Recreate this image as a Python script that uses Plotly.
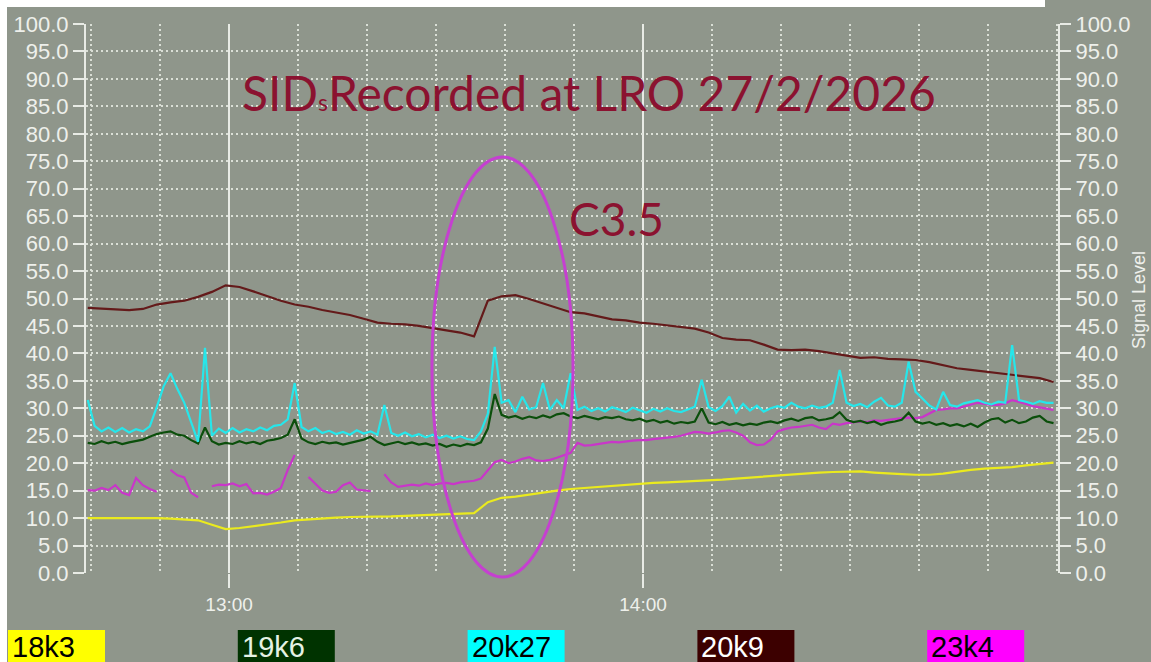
import pandas as pd
import plotly.graph_objects as go

# ---------------------------------------------------------------- data
DAY = pd.Timestamp("2026-02-27 12:00:00")

# sample times, minutes after 12:00
minutes_fast = [39.5 + i for i in range(141)]        # 1-minute channels
minutes_slow = [39.5 + 2 * i for i in range(71)]     # 2-minute channels

# 18k3 (yellow)
sig_18k3 = [10.0, 10.0, 10.1, 10.0, 10.0, 10.0, 9.9, 9.8, 9.6, 8.8,
            8.0, 8.2, 8.5, 8.8, 9.2, 9.6, 9.8, 9.9, 10.1, 10.2,
            10.2, 10.3, 10.3, 10.4, 10.5, 10.6, 10.7, 10.8, 10.9, 12.9,
            13.7, 13.9, 14.3, 14.7, 15.0, 15.3, 15.5, 15.7, 15.9, 16.1,
            16.3, 16.4, 16.5, 16.6, 16.8, 16.9, 17.0, 17.2, 17.4, 17.6,
            17.8, 18.0, 18.2, 18.3, 18.4, 18.4, 18.5, 18.3, 18.1, 18.0,
            17.9, 17.9, 18.1, 18.5, 18.8, 19.0, 19.1, 19.3, 19.6, 19.8,
            20.1]

# 20k9 (maroon)
sig_20k9 = [48.3, 48.2, 48.1, 47.9, 48.1, 48.9, 49.3, 49.6, 50.3, 51.2,
            52.4, 52.1, 51.3, 50.4, 49.6, 48.9, 48.5, 47.9, 47.4, 47.0,
            46.3, 45.6, 45.4, 45.3, 45.0, 44.6, 44.3, 43.8, 43.1, 49.6,
            50.4, 50.6, 49.9, 49.1, 48.3, 47.5, 47.3, 46.8, 46.2, 46.0,
            45.6, 45.4, 45.1, 44.9, 44.5, 43.8, 42.8, 42.5, 42.4, 41.6,
            40.7, 40.6, 40.7, 40.4, 40.0, 39.5, 39.2, 39.3, 39.0, 38.9,
            38.8, 38.4, 37.8, 37.3, 37.0, 36.7, 36.4, 36.1, 35.8, 35.5,
            34.8]

# 19k6 (dark green)
sig_19k6 = [23.7, 23.5, 24.0, 23.6, 23.9, 23.5, 23.8, 24.1, 24.3, 24.8,
            25.3, 25.6, 25.8, 25.2, 25.0, 24.2, 23.6, 26.5, 24.0, 23.4,
            23.7, 23.5, 24.0, 23.6, 23.9, 23.5, 24.1, 24.3, 24.6, 25.2,
            28.0, 24.5, 23.8, 23.5, 23.9, 23.6, 23.8, 23.4, 23.7, 23.9,
            24.3, 24.8, 23.9, 23.3, 23.6, 23.9, 23.5, 23.8, 23.4, 23.6,
            23.2, 23.5, 23.0, 23.4, 23.1, 23.5, 23.3, 23.8, 26.3, 32.6,
            28.8, 28.3, 28.6, 28.1, 28.5, 28.2, 28.7, 28.3, 28.9, 29.1,
            28.5, 28.2, 28.6, 28.3, 28.0, 28.4, 28.2, 28.5, 28.0, 27.8,
            28.1, 27.6, 27.9, 27.4, 27.7, 27.2, 27.5, 27.3, 27.6, 30.0,
            27.4, 27.1, 27.5, 27.0, 27.3, 26.9, 27.2, 27.0, 27.4, 27.6,
            27.3, 27.8, 28.1, 27.7, 28.2, 28.4, 27.8, 28.0, 28.3, 29.3,
            27.9, 27.5, 27.7, 27.3, 27.6, 27.0, 27.4, 27.6, 27.9, 29.2,
            27.6, 27.2, 27.5, 27.0, 27.3, 26.8, 27.1, 26.7, 27.2, 26.6,
            27.4, 28.0, 28.2, 27.4, 27.9, 27.3, 27.6, 28.3, 28.6, 27.6,
            27.3]

# 20k27 (cyan)
sig_20k27 = [31.5, 26.8, 25.8, 26.5, 25.7, 26.4, 25.6, 26.2, 25.8, 26.7,
             30.2, 34.0, 36.4, 33.5, 31.0, 27.5, 23.9, 41.0, 25.0, 26.3,
             25.5, 26.4, 25.6, 26.2, 25.8, 26.5, 26.0, 26.8, 27.0, 28.0,
             34.6, 26.6, 25.8, 26.4, 25.5, 25.9, 25.3, 25.7, 25.2, 26.0,
             25.4, 25.8, 25.2, 30.6, 25.5, 25.0, 25.6, 24.9, 25.3, 24.7,
             25.2, 24.6, 25.0, 24.5, 24.9, 24.4, 24.2, 25.8, 29.0, 41.2,
             31.0, 31.5, 29.3, 32.1, 29.8, 30.2, 34.6, 29.7, 31.5, 30.0,
             36.4, 29.7, 30.3, 29.5, 30.0, 29.4, 30.2, 29.8, 29.3, 30.1,
             29.6, 29.2, 29.9, 29.4, 30.0, 29.5, 29.3, 29.8, 30.3, 35.2,
             30.2, 29.5, 30.4, 32.1, 29.2, 30.8, 29.6, 30.5, 29.4, 30.0,
             30.4, 30.1, 31.0, 30.3, 30.0, 30.5, 30.1, 30.3, 31.0, 37.0,
             31.0, 30.4, 30.8, 30.2, 31.2, 31.9, 30.5, 30.3, 31.0, 38.5,
             33.0, 31.8, 30.5, 29.8, 33.0, 30.6, 30.3, 30.9, 31.2, 31.5,
             31.0, 30.7, 31.2, 31.0, 41.5, 31.5, 31.2, 30.8, 31.3, 31.0,
             31.0]

# 23k4 (magenta); None marks dropouts in the record
sig_23k4 = [15.1, 15.0, 15.5, 15.1, 16.0, 14.6, 14.2, 17.3, 16.0, 15.3,
            14.8, None, 18.8, 17.8, 17.4, 14.6, 13.8, None, 15.8, 16.1,
            16.0, 16.3, 15.8, 16.2, 14.5, 14.6, 14.3, 14.8, 15.5, 18.8,
            21.5, None, 17.5, 16.3, 15.0, 14.6, 14.8, 16.0, 16.5, 15.2,
            15.1, 14.9, None, 18.0, 16.5, 15.7, 15.9, 16.1, 15.9, 16.3,
            16.0, 16.3, 16.4, 16.2, 16.5, 16.6, 16.8, 17.2, 18.8, 20.2,
            20.6, 20.0, 20.3, 20.8, 21.1, 20.5, 20.4, 20.6, 21.0, 21.5,
            21.9, 23.7, 23.2, 23.3, 23.5, 23.6, 23.9, 23.8, 24.0, 24.1,
            24.2, 24.2, 24.4, 24.5, 24.7, 24.8, 25.0, 25.3, 25.7, 25.6,
            25.4, 25.6, 25.9, 26.0, 25.6, 25.0, 23.8, 23.3, 23.4, 24.3,
            25.8, 26.2, 26.5, 26.6, 26.8, 27.0, 26.5, 26.2, 27.2, 27.0,
            27.3, 27.4, 27.6, 27.5, 27.8, 27.7, 27.9, 28.0, 28.2, 28.3,
            28.2, 28.4, 29.0, 29.7, 29.8, 30.0, 30.0, 30.3, 30.6, 31.0,
            30.8, 30.6, 30.6, 30.9, 31.5, 31.2, 30.8, 30.4, 30.2, 30.0,
            29.7]

legend_labels = ["18k3", "19k6", "20k27", "20k9", "23k4"]
tick_hours = ["13:00", "14:00"]
flare_class = "C3.5"

# ---------------------------------------------------------------- style
BG = "#8f968b"
GRID = "#dadfd6"
AXIS = "#e8ebe5"
LABEL = "#eef0eb"
TITLE_RED = "#8b1230"
LINE_COLORS = {"18k3": "#eaea1e", "19k6": "#0b4f0b", "20k27": "#26e6ea",
               "20k9": "#641a1a", "23k4": "#c936c9"}
BOX_FILL = {"18k3": "#ffff00", "19k6": "#003300", "20k27": "#00ffff",
            "20k9": "#3c0000", "23k4": "#ff00ff"}
BOX_TEXT = {"18k3": "#000000", "19k6": "#e4f2e4", "20k27": "#000000",
            "20k9": "#ffffff", "23k4": "#000000"}

W, H = 1151, 662
PL, PR, PT, PB = 86, 1058, 24, 573   # plot area in pixels


def px_x(px):
    return (px - PL) / (PR - PL)


def px_y(py):
    return (PB - py) / (PB - PT)


def stamp(mins):
    return [DAY + pd.Timedelta(minutes=m) for m in mins]


t_fast = stamp(minutes_fast)
t_slow = stamp(minutes_slow)

fig = go.Figure()


def add_line(x, y, name, yaxis="y"):
    fig.add_trace(go.Scatter(
        x=x, y=y, mode="lines", name=name, yaxis=yaxis,
        line=dict(color=LINE_COLORS[name], width=2.2),
        connectgaps=False, showlegend=False, hoverinfo="skip"))


add_line(t_slow, sig_18k3, "18k3")
add_line(t_fast, sig_23k4, "23k4")
add_line(t_slow, sig_20k9, "20k9")
add_line(t_fast, sig_19k6, "19k6")
add_line(t_fast, sig_20k27, "20k27", yaxis="y2")

tickfont = dict(family="Liberation Sans, Arial, sans-serif", size=22, color=LABEL)
yaxis_common = dict(
    range=[0, 100], tick0=0, dtick=5, tickformat=".1f",
    ticks="outside", ticklen=11, tickwidth=2, tickcolor=AXIS,
    showline=True, linecolor=AXIS, linewidth=2,
    zeroline=False, tickfont=tickfont, fixedrange=True,
)

fig.update_layout(
    width=W, height=H,
    margin=dict(l=PL, r=W - PR, t=PT, b=H - PB, pad=0),
    paper_bgcolor=BG, plot_bgcolor=BG,
    xaxis=dict(
        type="date",
        range=[DAY + pd.Timedelta(minutes=39.25), DAY + pd.Timedelta(minutes=180.15)],
        tickvals=[DAY + pd.Timedelta(hours=1), DAY + pd.Timedelta(hours=2)],
        ticktext=tick_hours,
        ticks="outside", ticklen=14, tickwidth=2, tickcolor=AXIS,
        showgrid=True, gridcolor=AXIS, gridwidth=2,
        minor=dict(dtick=600000, tick0=DAY, showgrid=True,
                   gridcolor=GRID, gridwidth=1.5, griddash="2px,3px", ticks=""),
        showline=False, zeroline=False,
        tickfont=dict(family="Liberation Sans, Arial, sans-serif", size=19, color=LABEL),
        fixedrange=True,
    ),
    yaxis=dict(side="left", showgrid=True, gridcolor=GRID, gridwidth=1.5,
               griddash="2px,3px", **yaxis_common),
    yaxis2=dict(side="right", overlaying="y", anchor="x", showgrid=False,
                **yaxis_common),
)

# ellipse round the flare
fig.add_shape(type="circle", xref="x", yref="paper",
              x0=DAY + pd.Timedelta(minutes=89.4), x1=DAY + pd.Timedelta(minutes=109.85),
              y0=px_y(577), y1=px_y(157),
              line=dict(color="#c540d0", width=3), layer="above")

# title and flare class
fig.add_annotation(
    text="SID<span style='font-size:23px'>s</span>Recorded at LRO 27/2/2026",
    xref="paper", yref="paper", x=px_x(240), y=px_y(92),
    xanchor="left", yanchor="middle", showarrow=False,
    font=dict(family="Lato, sans-serif", size=48, color=TITLE_RED))
fig.add_annotation(
    text=flare_class, xref="paper", yref="paper", x=px_x(567), y=px_y(218),
    xanchor="left", yanchor="middle", showarrow=False,
    font=dict(family="Lato, sans-serif", size=46, color=TITLE_RED))

# right-hand axis title
fig.add_annotation(
    text="Signal Level", textangle=-90, xref="paper", yref="paper",
    x=px_x(1139), y=px_y(300), xanchor="center", yanchor="middle",
    showarrow=False,
    font=dict(family="Liberation Sans, Arial, sans-serif", size=18, color=LABEL))

# channel key along the bottom
for i, name in enumerate(legend_labels):
    left = 8 + i * 229.8
    fig.add_shape(type="rect", xref="paper", yref="paper",
                  x0=px_x(left), x1=px_x(left + 97), y0=px_y(668), y1=px_y(630),
                  fillcolor=BOX_FILL[name], line=dict(width=0), layer="above")
    fig.add_annotation(text=name, xref="paper", yref="paper",
                       x=px_x(left + 2), y=px_y(647), xanchor="left", yanchor="middle",
                       showarrow=False,
                       font=dict(family="Liberation Sans, Arial, sans-serif",
                                 size=29, color=BOX_TEXT[name]))

# white border along the top and left edges
fig.add_shape(type="rect", xref="paper", yref="paper",
              x0=px_x(0), x1=px_x(1045), y0=px_y(7), y1=px_y(-2),
              fillcolor="#ffffff", line=dict(width=0), layer="above")
fig.add_shape(type="rect", xref="paper", yref="paper",
              x0=px_x(-2), x1=px_x(7), y0=px_y(665), y1=px_y(-2),
              fillcolor="#ffffff", line=dict(width=0), layer="above")

fig.write_html("out.html")
